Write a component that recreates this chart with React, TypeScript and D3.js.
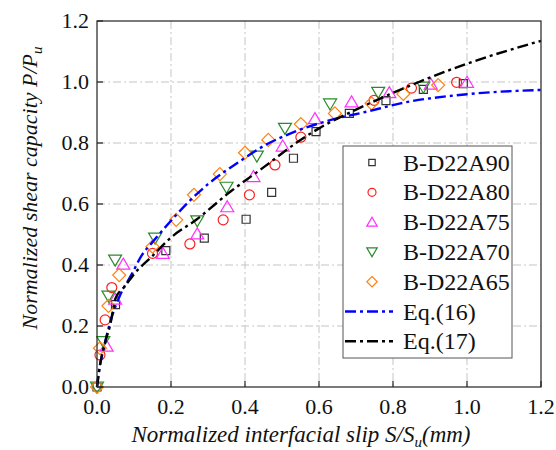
import React from "react";
import * as d3 from "d3";

// ---- data ----
const xTicks = [0, 0.2, 0.4, 0.6, 0.8, 1.0, 1.2];
const yTicks = [0, 0.2, 0.4, 0.6, 0.8, 1.0, 1.2];

const a90X = [0, 0.05, 0.186, 0.29, 0.403, 0.472, 0.531, 0.592, 0.682, 0.781, 0.882, 0.99];
const a90Y = [0, 0.27, 0.447, 0.488, 0.55, 0.638, 0.75, 0.837, 0.897, 0.939, 0.976, 0.995];

const a80X = [0.008, 0.022, 0.04, 0.15, 0.251, 0.341, 0.412, 0.481, 0.551, 0.749, 0.85, 0.972];
const a80Y = [0.105, 0.22, 0.326, 0.438, 0.469, 0.548, 0.63, 0.728, 0.819, 0.94, 0.98, 0.999];

const a75X = [0.026, 0.049, 0.071, 0.178, 0.271, 0.352, 0.423, 0.502, 0.589, 0.688, 0.79, 0.902, 1.0];
const a75Y = [0.134, 0.288, 0.403, 0.438, 0.502, 0.591, 0.69, 0.79, 0.88, 0.935, 0.965, 0.993, 0.999];

const a70X = [0, 0.017, 0.031, 0.049, 0.157, 0.271, 0.35, 0.432, 0.508, 0.63, 0.76, 0.882];
const a70Y = [0, 0.149, 0.298, 0.416, 0.488, 0.545, 0.655, 0.757, 0.848, 0.928, 0.966, 0.983];

const a65X = [0, 0.008, 0.031, 0.06, 0.15, 0.214, 0.262, 0.332, 0.4, 0.463, 0.551, 0.643, 0.742, 0.828, 0.922];
const a65Y = [0, 0.127, 0.266, 0.367, 0.46, 0.548, 0.63, 0.698, 0.768, 0.81, 0.862, 0.897, 0.93, 0.961, 0.99];

const eq16X = [0, 0.005, 0.017, 0.035, 0.062, 0.094, 0.12, 0.15, 0.2, 0.25, 0.3, 0.38, 0.45, 0.53, 0.64, 0.73, 0.82, 1.0, 1.2];
const eq16Y = [0, 0.05, 0.12, 0.21, 0.3, 0.37, 0.43, 0.475, 0.545, 0.61, 0.665, 0.735, 0.79, 0.835, 0.878, 0.903, 0.93, 0.96, 0.974];

const eq17X = [0, 0.008, 0.025, 0.035, 0.05, 0.075, 0.1, 0.15, 0.2, 0.27, 0.36, 0.45, 0.55, 0.6, 0.71, 0.87, 1.0, 1.2];
const eq17Y = [0, 0.07, 0.16, 0.2, 0.29, 0.33, 0.37, 0.43, 0.49, 0.55, 0.64, 0.72, 0.81, 0.848, 0.915, 1.0, 1.06, 1.135];

const seriesNames = ["B-D22A90", "B-D22A80", "B-D22A75", "B-D22A70", "B-D22A65"];
const seriesColors = ["#333333", "#ff2020", "#ff30ff", "#2a8a2a", "#ff8010"];
const seriesShapes = ["square", "circle", "triangle", "triangleDown", "diamond"];
const seriesX = [a90X, a80X, a75X, a70X, a65X];
const seriesY = [a90Y, a80Y, a75Y, a70Y, a65Y];

const eqNames = ["Eq.(16)", "Eq.(17)"];
const eqColors = ["#0000ff", "#000000"];

const W = 556, H = 450;
const M = { left: 97, right: 541, top: 21, bottom: 387 };
const FONT = '"Liberation Serif", "DejaVu Serif", serif';
const DASH = "11,4,3,4";

function markerPath(shape: string, cx: number, cy: number, k = 1): string {
  switch (shape) {
    case "square":
      return `M${cx - 4 * k},${cy - 4 * k}h${8 * k}v${8 * k}h${-8 * k}Z`;
    case "circle":
      return `M${cx - 5 * k},${cy}a${5 * k},${5 * k} 0 1,0 ${10 * k},0a${5 * k},${5 * k} 0 1,0 ${-10 * k},0Z`;
    case "triangle":
      return `M${cx},${cy - 6 * k}L${cx + 6.5 * k},${cy + 5 * k}L${cx - 6.5 * k},${cy + 5 * k}Z`;
    case "triangleDown":
      return `M${cx},${cy + 6 * k}L${cx + 6.5 * k},${cy - 5 * k}L${cx - 6.5 * k},${cy - 5 * k}Z`;
    case "diamond":
      return `M${cx},${cy - 6.5 * k}L${cx + 6.5 * k},${cy}L${cx},${cy + 6.5 * k}L${cx - 6.5 * k},${cy}Z`;
  }
  return "";
}

export default function App() {
  const x = d3.scaleLinear().domain([0, 1.2]).range([M.left, M.right]);
  const y = d3.scaleLinear().domain([0, 1.2]).range([M.bottom, M.top]);
  const line = d3
    .line<[number, number]>()
    .x((d) => x(d[0]))
    .y((d) => y(d[1]))
    .curve(d3.curveMonotoneX);

  const eqPts: [number, number][][] = [
    eq16X.map((v, i) => [v, eq16Y[i]] as [number, number]),
    eq17X.map((v, i) => [v, eq17Y[i]] as [number, number]),
  ];

  const gridTicks = xTicks.filter((t) => t > 0 && t < 1.2);
  const lgX = 343, lgY = 146, lgW = 169, lgH = 212;
  const rowH = 29.8;
  const row0 = 162.5;
  const ts = { fontFamily: FONT };

  return (
    <svg width={W} height={H} style={{ position: "absolute", left: 0, top: 0, fontFamily: FONT }}>
      <rect width={W} height={H} fill="#fff" />
      {/* grid */}
      {gridTicks.map((t) => (
        <line key={"gx" + t} x1={x(t)} x2={x(t)} y1={M.top} y2={M.bottom} stroke="#c4c4c4" strokeWidth={1} strokeDasharray="8,3,2,3" />
      ))}
      {gridTicks.map((t) => (
        <line key={"gy" + t} x1={M.left} x2={M.right} y1={y(t)} y2={y(t)} stroke="#c4c4c4" strokeWidth={1} strokeDasharray="8,3,2,3" />
      ))}
      {/* markers */}
      {seriesX.map((xs, si) => (
        <g key={"s" + si} fill="none" stroke={seriesColors[si]} strokeWidth={1.2}>
          {xs.map((v, i) => (
            <path key={i} d={markerPath(seriesShapes[si], x(v), y(seriesY[si][i]))} />
          ))}
        </g>
      ))}
      {/* equation curves */}
      {eqPts.map((pts, i) => (
        <path key={"eq" + i} d={line(pts) || ""} fill="none" stroke={eqColors[i]} strokeWidth={2.4} strokeDasharray={DASH} />
      ))}
      {/* frame */}
      <rect x={M.left} y={M.top} width={M.right - M.left} height={M.bottom - M.top} fill="none" stroke="#222" strokeWidth={1.2} />
      {/* ticks */}
      {xTicks.map((t) => (
        <g key={"xt" + t}>
          <line x1={x(t)} x2={x(t)} y1={M.bottom} y2={M.bottom - 6} stroke="#222" strokeWidth={1.2} />
          <text style={ts} x={x(t)} y={M.bottom + 27} textAnchor="middle" fontSize={22} fill="#111">
            {t.toFixed(1)}
          </text>
        </g>
      ))}
      {yTicks.map((t) => (
        <g key={"yt" + t}>
          <line x1={M.left} x2={M.left + 6} y1={y(t)} y2={y(t)} stroke="#222" strokeWidth={1.2} />
          <text style={ts} x={M.left - 8} y={y(t) + 7} textAnchor="end" fontSize={22} fill="#111">
            {t.toFixed(1)}
          </text>
        </g>
      ))}
      {/* axis titles */}
      <text style={ts} x={301} y={442} textAnchor="middle" fontSize={23} fontStyle="italic" fill="#111">
        Normalized interfacial slip S/S<tspan fontSize={15} dy={5}>u</tspan><tspan dy={-5}>(mm)</tspan>
      </text>
      <text style={ts} transform={`translate(37,188) rotate(-90)`} textAnchor="middle" fontSize={22} fontStyle="italic" fill="#111">
        Normalized shear capacity P/P<tspan fontSize={15} dy={5}>u</tspan>
      </text>
      {/* legend */}
      <rect x={lgX} y={lgY} width={lgW} height={lgH} fill="#fff" stroke="#555" strokeWidth={1} />
      {seriesNames.map((n, i) => (
        <g key={"lg" + i}>
          <path d={markerPath(seriesShapes[i], 372, row0 + i * rowH, 0.8)} fill="none" stroke={seriesColors[i]} strokeWidth={1.2} />
          <text style={ts} x={403} y={row0 + i * rowH + 8} fontSize={24} fill="#111">
            {n}
          </text>
        </g>
      ))}
      {eqNames.map((n, j) => {
        const ry = row0 + (5 + j) * rowH;
        return (
          <g key={"le" + j}>
            <line x1={345} x2={393} y1={ry} y2={ry} stroke={eqColors[j]} strokeWidth={2.4} strokeDasharray={DASH} />
            <text style={ts} x={403} y={ry + 8} fontSize={24} fill="#111">
              {n}
            </text>
          </g>
        );
      })}
    </svg>
  );
}
